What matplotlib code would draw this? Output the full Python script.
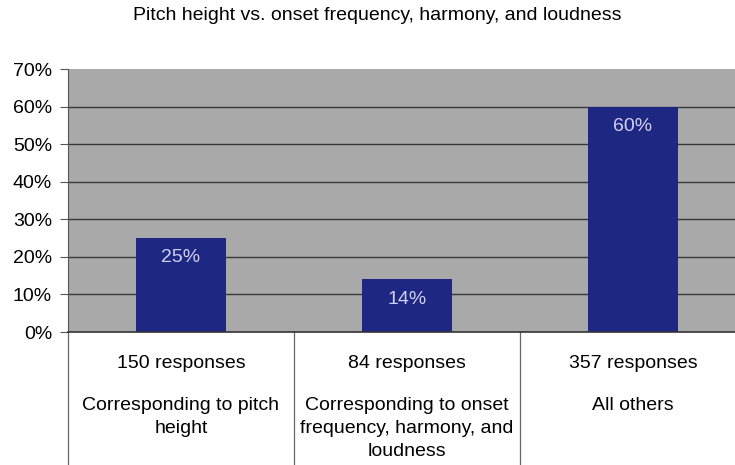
import matplotlib.pyplot as plt
from matplotlib.lines import Line2D
import matplotlib.transforms as mtransforms

# data
categories = ["Corresponding to pitch\nheight",
              "Corresponding to onset\nfrequency, harmony, and\nloudness",
              "All others"]
responses = [150, 84, 357]
shares = [25, 14, 60]
yticks = [0, 10, 20, 30, 40, 50, 60, 70]

plt.rcParams['font.family'] = ['Liberation Sans', 'DejaVu Sans']

fig = plt.figure(figsize=(7.35, 4.65), dpi=100)
W, H = 735, 465
left, right, top, bottom = 68, 735, 69, 332
ax = fig.add_axes([left / W, 1 - bottom / H, (right - left) / W, (bottom - top) / H])

bin_px = 226
ax.set_xlim(-0.5, -0.5 + (right - left) / bin_px)
ax.set_ylim(0, 70)
ax.set_facecolor('#a9a9a9')

# horizontal gridlines
for v in yticks[1:-1]:
    ax.axhline(v, color='#383838', lw=1.0, zorder=1)

x = list(range(len(categories)))
ax.bar(x, shares, width=0.4, color='#1e2782', zorder=2)
for xi, s in zip(x, shares):
    ax.text(xi, s - 5.3, f"{s}%", ha='center', va='center', color='#cfd0f5',
            fontsize=14, zorder=3)

ax.set_yticks(yticks)
ax.set_yticklabels([f"{v}%" for v in yticks], fontsize=14)
ax.tick_params(axis='y', length=6, width=0.8, color='#555555', pad=5.5)
ax.set_xticks([])
for sp in ['top', 'right']:
    ax.spines[sp].set_visible(False)
ax.spines['left'].set_color('#555555')
ax.spines['bottom'].set_color('#333333')
ax.spines['bottom'].set_linewidth(1.2)

# category dividers under the axis
trans = mtransforms.blended_transform_factory(ax.transData, ax.transAxes)
ph = bottom - top
ext = (H - bottom) / ph
for xd in [-0.5, 0.5, 1.5]:
    ax.add_line(Line2D([xd, xd], [0, -ext], transform=trans, color='#666666',
                       lw=0.9, clip_on=False))

# category labels
for xi, n, cat in zip(x, responses, categories):
    ax.text(xi, -(363 - bottom) / ph, f"{n} responses", transform=trans,
            ha='center', va='center', fontsize=14)
    for k, line in enumerate(cat.split("\n")):
        ax.text(xi, -(405 + 23 * k - bottom) / ph, line, transform=trans,
                ha='center', va='center', fontsize=14)

fig.text(377 / W, 1 - 15 / H, "Pitch height vs. onset frequency, harmony, and loudness",
         ha='center', va='center', fontsize=14)

fig.savefig('out.png', dpi=100)
